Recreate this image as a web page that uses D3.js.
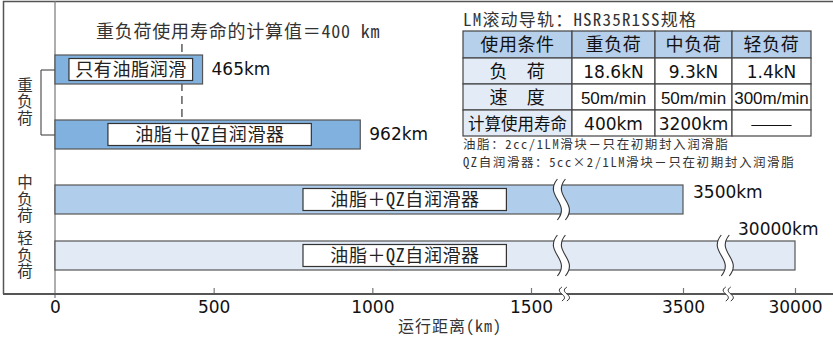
<!DOCTYPE html>
<html>
<head>
<meta charset="utf-8">
<script src="https://cdn.jsdelivr.net/npm/d3@7"></script>
<style>
  body { margin: 0; background: #fff; }
  svg { display: block; }
</style>
</head>
<body>
<script>
var w = 833;
var h = 339;

// data
var barLabels = ["只有油脂润滑", "油脂＋QZ自润滑器", "油脂＋QZ自润滑器", "油脂＋QZ自润滑器"];
var barValues = [465, 962, 3500, 30000];
var barLoads = ["重负荷", "重负荷", "中负荷", "轻负荷"];
var loadNames = ["重负荷", "中负荷", "轻负荷"];
var tickValues = [0, 500, 1000, 1500, 3500, 30000];
var breakValues = [1900, 13500];
var heavyCalcLife = 400;

var tableTitle = "LM滚动导轨：HSR35R1SS规格";
var tableHeader = ["使用条件", "重负荷", "中负荷", "轻负荷"];
var tableRowNames = ["负　荷", "速　度", "计算使用寿命"];
var tableLoad = ["18.6kN", "9.3kN", "1.4kN"];
var tableSpeed = ["50m/min", "50m/min", "300m/min"];
var tableLife = ["400km", "3200km", "———"];
var notes = ["油脂：2cc/1LM滑块－只在初期封入润滑脂", "QZ自润滑器：5cc×2/1LM滑块－只在初期封入润滑脂"];

var cjk = '"Noto Sans Mono CJK SC", "Noto Sans CJK SC", sans-serif';
var num = '"DejaVu Sans", sans-serif';
var colors = { "重负荷": "#80b1df", "中负荷": "#b0cdeb", "轻负荷": "#e2eaf6" };
var ink = "#333";

var svg = d3.select("body").append("svg").attr("width", w).attr("height", h);

var x = d3.scaleLinear()
    .domain([0, 1500, 3500, 30000])
    .range([55, 531, 683, 795]);
var y = d3.scaleOrdinal()
    .domain(d3.range(barValues.length))
    .range([55, 120, 185, 241]);
var barH = 29;
var axisY = 294;

// frame
svg.append("path")
    .attr("d", "M833,1.5 H3.5 V" + axisY)
    .attr("fill", "none").attr("stroke", "#555").attr("stroke-width", 1.5);
svg.append("line")
    .attr("x1", x(0)).attr("x2", x(0)).attr("y1", 1).attr("y2", axisY + 4)
    .attr("stroke", "#777").attr("stroke-width", 1.2);

// calc life dashed line + title
svg.append("line")
    .attr("x1", x(heavyCalcLife)).attr("x2", x(heavyCalcLife))
    .attr("y1", 44).attr("y2", y(1))
    .attr("stroke", "#444").attr("stroke-width", 1.3)
    .attr("stroke-dasharray", "8,5");
svg.append("text")
    .attr("x", x(heavyCalcLife) - 86).attr("y", 38)
    .attr("font-family", cjk).attr("font-size", 18).attr("letter-spacing", 0.8)
    .attr("fill", ink)
    .text("重负荷使用寿命的计算值＝" + heavyCalcLife + " km");

// bracket for the two heavy-load bars
svg.append("path")
    .attr("d", "M" + x(0) + "," + (y(0) + 15) + " H41 V" + (y(1) + 15) + " H" + x(0))
    .attr("fill", "none").attr("stroke", ink).attr("stroke-width", 1);

// load labels, vertical writing
loadNames.forEach(function (name) {
    var idx = d3.range(barValues.length).filter(function (i) { return barLoads[i] === name; });
    var cy = d3.mean(idx, function (i) { return y(i) + barH / 2; });
    svg.append("text")
        .attr("x", 25).attr("y", cy)
        .style("writing-mode", "vertical-rl")
        .attr("text-anchor", "middle")
        .attr("font-family", cjk).attr("font-size", 15.5).attr("letter-spacing", 1)
        .attr("fill", ink)
        .text(name);
});

// bars
var bars = svg.selectAll("g.bar")
    .data(barValues)
    .enter()
    .append("g")
    .attr("class", "bar");

bars.append("rect")
    .attr("x", x(0))
    .attr("y", function (d, i) { return y(i); })
    .attr("width", function (d) { return x(d) - x(0); })
    .attr("height", barH)
    .attr("fill", function (d, i) { return colors[barLoads[i]]; })
    .attr("stroke", "#555").attr("stroke-width", 1.2);

// label boxes inside bars
bars.each(function (d, i) {
    var g = d3.select(this);
    var t = g.append("text")
        .attr("font-family", cjk).attr("font-size", 18).attr("letter-spacing", 0.6)
        .attr("fill", "#222").attr("text-anchor", "middle")
        .text(barLabels[i]);
    var tw = t.node().getComputedTextLength();
    var pad = barLabels[i].length < 7 ? 6 : 27;
    var bw = tw + pad * 2;
    var cx;
    if (d > breakValues[0]) cx = x(breakValues[0]) - 55 - bw / 2;
    else cx = (x(0) + x(d)) / 2 + 2;
    g.insert("rect", "text")
        .attr("x", cx - bw / 2).attr("y", y(i) + 3.5)
        .attr("width", bw).attr("height", 22)
        .attr("fill", "#fff").attr("stroke", "#333").attr("stroke-width", 1.2);
    t.attr("x", cx + 0.3).attr("y", y(i) + 21);
});

// value labels
bars.append("text")
    .attr("font-family", num).attr("font-size", 17).attr("fill", "#111")
    .attr("x", function (d, i) { return d >= 30000 ? x(d) - 57 : x(d) + (d > 1500 ? 10 : 9); })
    .attr("y", function (d, i) {
        if (d >= 30000) return y(i) - 6;
        if (d > 1500) return y(i) + 13;
        return y(i) + 20;
    })
    .text(function (d) { return d + "km"; });

// break symbols
function sCurve(cx, y0, y1, a) {
    var hh = y1 - y0;
    return "M" + cx + "," + y0 + " C" + (cx - a) + "," + (y0 + hh * 0.42) + " " + (cx + a) + "," + (y0 + hh * 0.58) + " " + cx + "," + y1;
}
function sCurveRev(cx, y0, y1, a) {
    var hh = y1 - y0;
    return " C" + (cx + a) + "," + (y0 + hh * 0.58) + " " + (cx - a) + "," + (y0 + hh * 0.42) + " " + cx + "," + y0;
}
function drawBreak(cx, y0, y1, a, gap, sw) {
    var g = svg.append("g");
    g.append("path")
        .attr("d", sCurve(cx - gap / 2, y0, y1, a) + " L" + (cx + gap / 2) + "," + y1 + sCurveRev(cx + gap / 2, y0, y1, a) + " Z")
        .attr("fill", "#fff");
    [cx - gap / 2, cx + gap / 2].forEach(function (c) {
        g.append("path").attr("d", sCurve(c, y0, y1, a))
            .attr("fill", "none").attr("stroke", ink).attr("stroke-width", sw);
    });
}

// axis
var axis = d3.axisBottom(x)
    .tickValues(tickValues)
    .tickSize(-6)
    .tickPadding(7)
    .tickFormat(d3.format("d"));
var ax = svg.append("g")
    .attr("transform", "translate(0," + axisY + ")")
    .call(axis);
ax.select(".domain").remove();
ax.selectAll(".tick line").attr("stroke", "#777").attr("stroke-width", 1.2)
    .filter(function (d) { return d === 0; }).remove();
ax.selectAll(".tick text")
    .attr("font-family", num).attr("font-size", 17).attr("fill", "#111");
svg.append("line")
    .attr("x1", 3).attr("x2", w).attr("y1", axisY).attr("y2", axisY)
    .attr("stroke", "#555").attr("stroke-width", 1.8);

breakValues.forEach(function (bv) {
    barValues.forEach(function (d, i) {
        if (d > bv) drawBreak(x(bv), y(i) - 6, y(i) + barH + 6, 14, 8, 1.1);
    });
    drawBreak(x(bv) + 3, axisY - 7, axisY + 7, 9, 5, 1);
});

svg.append("text")
    .attr("x", 450).attr("y", 332)
    .attr("text-anchor", "middle")
    .attr("font-family", cjk).attr("font-size", 16).attr("letter-spacing", 1)
    .attr("fill", ink)
    .text("运行距离(km)");

// spec table
var colX = [463, 572, 655, 732, 811];
var rowY = [31, 58, 84, 110, 136];
var table = svg.append("g");
table.append("text")
    .attr("x", colX[0]).attr("y", 26)
    .attr("font-family", cjk).attr("font-size", 17).attr("letter-spacing", 1.2)
    .attr("fill", ink).text(tableTitle);

var cells = [];
tableHeader.forEach(function (t, c) { cells.push({ r: 0, c: c, t: t, bg: "#b6d0ec", f: cjk, s: 18 }); });
[tableLoad, tableSpeed, tableLife].forEach(function (vals, r) {
    var rn = tableRowNames[r];
    cells.push({ r: r + 1, c: 0, t: rn, bg: "#e3ebf7", f: cjk, s: rn.length > 4 ? 16.5 : 18 });
    vals.forEach(function (v, c) {
        var isSpeed = vals === tableSpeed;
        var isDash = v.charAt(0) === "—";
        cells.push({
            r: r + 1, c: c + 1, t: v, bg: "#fff",
            f: isDash ? cjk : (isSpeed ? '"Liberation Sans", Arial, sans-serif' : num),
            s: 17
        });
    });
});

table.selectAll("rect.cell")
    .data(cells)
    .enter()
    .append("rect")
    .attr("class", "cell")
    .attr("x", function (d) { return colX[d.c]; })
    .attr("y", function (d) { return rowY[d.r]; })
    .attr("width", function (d) { return colX[d.c + 1] - colX[d.c]; })
    .attr("height", function (d) { return rowY[d.r + 1] - rowY[d.r]; })
    .attr("fill", function (d) { return d.bg; })
    .attr("stroke", "#444").attr("stroke-width", 1.2);

table.selectAll("text.cell")
    .data(cells)
    .enter()
    .append("text")
    .attr("class", "cell")
    .attr("x", function (d) { return (colX[d.c] + colX[d.c + 1]) / 2; })
    .attr("y", function (d) { return (rowY[d.r] + rowY[d.r + 1]) / 2 + 6.5; })
    .attr("text-anchor", "middle")
    .attr("font-family", function (d) { return d.f; })
    .attr("font-size", function (d) { return d.s; })
    .attr("letter-spacing", function (d) { return d.f === cjk && d.s >= 18 ? 0.6 : 0; })
    .attr("fill", "#111")
    .text(function (d) { return d.t; });

table.selectAll("text.note")
    .data(notes)
    .enter()
    .append("text")
    .attr("class", "note")
    .attr("x", colX[0]).attr("y", function (d, i) { return 149 + i * 18; })
    .attr("font-family", cjk).attr("font-size", 12.5).attr("letter-spacing", 1.6)
    .attr("fill", ink)
    .text(function (d) { return d; });
</script>
</body>
</html>
